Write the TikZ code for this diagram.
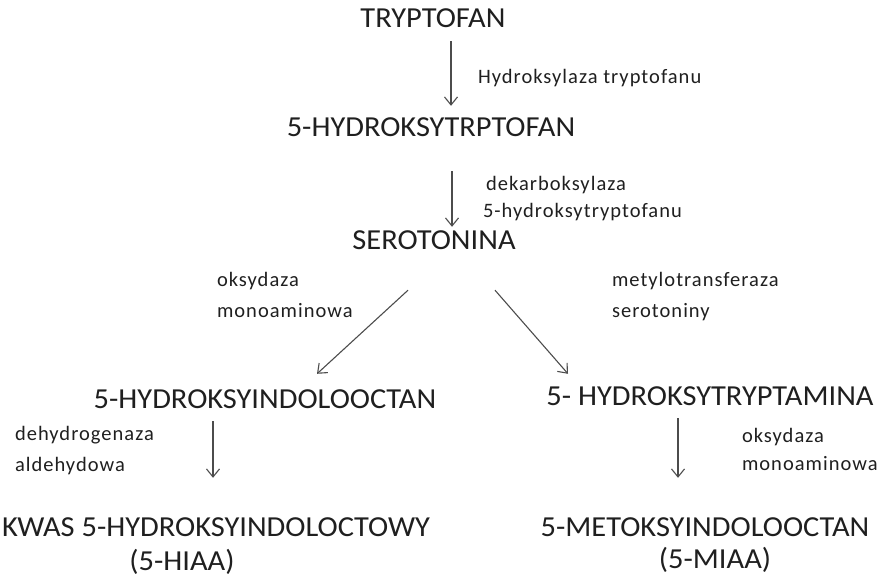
\documentclass[tikz,border=0pt]{standalone}
\usepackage{fontspec}
\setmainfont{Carlito}[FakeStretch=1.05]
\newfontfamily\enzfont{Carlito}[LetterSpace=5]
\usetikzlibrary{arrows.meta,positioning}
\tikzset{
	compound/.style={inner sep=0pt,outer sep=0pt,text height=0.64em,text depth=0pt,font=\fontsize{29}{30}\selectfont,text=black!88},
	enzyme/.style={inner sep=0pt,outer sep=0pt,anchor=base west,font=\enzfont\fontsize{20.5}{21}\selectfont,text=black!88},
	arr/.style={draw=black!70,line width=1.1pt,-{Straight Barb[length=8pt,width=13pt,line width=1.1pt]}}
}

\begin{document}
\begin{tikzpicture}[x=1pt,y=-1pt]
	\useasboundingbox (0,0) rectangle (882,578);
	% compounds
	\node[compound] (t0) at (433, 24) {TRYPTOFAN};
	\node[compound] (t1) at (431, 133) {5-HYDROKSYTRPTOFAN};
	\node[compound] (t2) at (434, 246) {SEROTONINA};
	\node[compound] (t3) at (265, 405) {5-HYDROKSYINDOLOOCTAN};
	\node[compound] (t4) at (710, 402) {5- HYDROKSYTRYPTAMINA};
	\node[compound] (t5) at (216, 533) {KWAS 5-HYDROKSYINDOLOCTOWY};
	\node[compound] (t6) at (182, 567) {(5-HIAA)};
	\node[compound] (t7) at (705, 533) {5-METOKSYINDOLOOCTAN};
	\node[compound] (t8) at (715, 565) {(5-MIAA)};
	% enzymes
	\node[enzyme] (e1) at (478, 83) {Hydroksylaza tryptofanu};
	\node[enzyme] (e2a) at (486, 190) {dekarboksylaza};
	\node[enzyme] (e2b) at (483, 217) {5-hydroksytryptofanu};
	\node[enzyme] (e3a) at (217, 286) {oksydaza};
	\node[enzyme] (e3b) at (217, 317) {monoaminowa};
	\node[enzyme] (e4a) at (612, 286) {metylotransferaza};
	\node[enzyme] (e4b) at (612, 317) {serotoniny};
	\node[enzyme] (e5a) at (15, 440) {dehydrogenaza};
	\node[enzyme] (e5b) at (15, 471) {aldehydowa};
	\node[enzyme] (e6a) at (742, 442) {oksydaza};
	\node[enzyme] (e6b) at (742, 470) {monoaminowa};
	% reactions
	\draw[arr] ([shift={(18,14)}]t0.south) -- ([shift={(20,-24)}]t1.north);
	\draw[arr] ([shift={(21,35)}]t1.south) -- ([shift={(18,-16)}]t2.north);
	\draw[arr] ([shift={(-26,41)}]t2.south) -- ([shift={(52,-28)}]t3.north);
	\draw[arr] ([shift={(61,41)}]t2.south) -- ([shift={(-142,-25)}]t4.north);
	\draw[arr] ([shift={(-52,13)}]t3.south) -- ([shift={(-3,-52)}]t5.north);
	\draw[arr] ([shift={(-32,13)}]t4.south) -- ([shift={(-27,-52)}]t7.north);
\end{tikzpicture}
\end{document}
